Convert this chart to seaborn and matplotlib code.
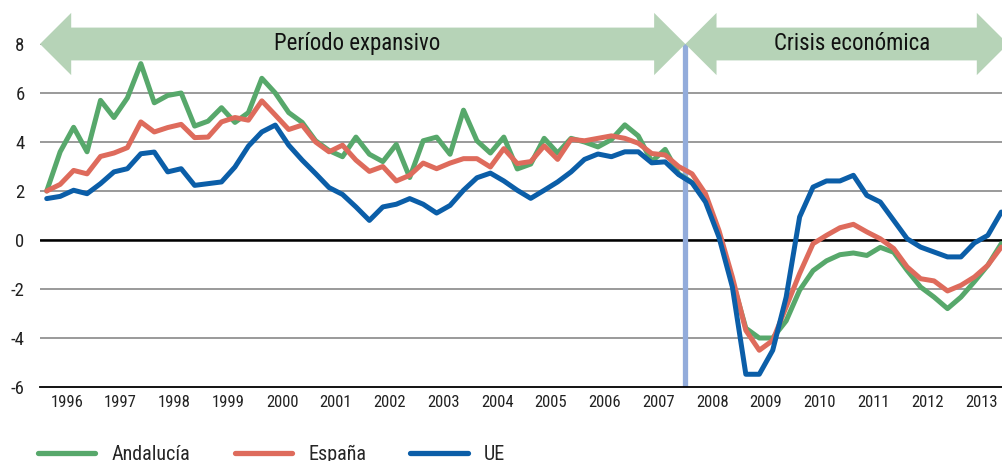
import numpy as np
import pandas as pd
import seaborn as sns
import matplotlib.pyplot as plt
from matplotlib.patches import Polygon
from matplotlib.lines import Line2D

# quarterly growth rates, 1996Q1 - 2013Q4
quarters = pd.period_range('1996Q1', '2013Q4', freq='Q')

andalucia = [2.0, 3.6, 4.6, 3.6, 5.7, 5.0, 5.8, 7.2, 5.6, 5.9, 6.0, 4.65,
             4.85, 5.4, 4.8, 5.2, 6.6, 6.0, 5.2, 4.8, 4.05, 3.65, 3.4, 4.2,
             3.5, 3.2, 3.9, 2.55, 4.05, 4.2, 3.5, 5.3, 4.05, 3.55, 4.2, 2.9,
             3.1, 4.15, 3.55, 4.15, 4.0, 3.8, 4.1, 4.7, 4.25, 3.2, 3.7, 2.7,
             2.35, 1.8, 0.25, -1.65, -3.6, -4.0, -4.0, -3.3, -2.05, -1.25, -0.85, -0.6,
             -0.53, -0.63, -0.3, -0.5, -1.24, -1.92, -2.33, -2.8, -2.33, -1.7, -1.03, -0.15]

espana = [2.0, 2.27, 2.84, 2.7, 3.41, 3.55, 3.77, 4.82, 4.41, 4.59, 4.72, 4.18,
          4.2, 4.82, 5.0, 4.89, 5.68, 5.1, 4.51, 4.69, 4.0, 3.6, 3.87, 3.26,
          2.8, 3.0, 2.41, 2.64, 3.14, 2.91, 3.14, 3.32, 3.32, 2.98, 3.73, 3.12,
          3.2, 3.84, 3.29, 4.11, 4.05, 4.15, 4.25, 4.15, 3.95, 3.53, 3.47, 3.0,
          2.7, 1.89, 0.39, -1.51, -3.69, -4.5, -4.1, -2.73, -1.37, -0.15, 0.19, 0.5,
          0.64, 0.33, 0.05, -0.35, -1.1, -1.58, -1.67, -2.08, -1.85, -1.51, -1.03, -0.29]

ue = [1.69, 1.78, 2.03, 1.89, 2.3, 2.78, 2.91, 3.52, 3.59, 2.78, 2.91, 2.23,
      2.3, 2.37, 2.98, 3.83, 4.41, 4.69, 3.87, 3.26, 2.71, 2.14, 1.86, 1.35,
      0.8, 1.35, 1.46, 1.69, 1.46, 1.1, 1.41, 2.03, 2.54, 2.73, 2.41, 2.03,
      1.7, 2.03, 2.37, 2.78, 3.29, 3.51, 3.4, 3.6, 3.6, 3.15, 3.19, 2.67,
      2.33, 1.55, 0.12, -1.92, -5.48, -5.48, -4.5, -2.33, 0.94, 2.16, 2.41, 2.41,
      2.64, 1.82, 1.55, 0.8, 0.05, -0.29, -0.49, -0.69, -0.69, -0.12, 0.19, 1.14]

series_names = ['Andalucía', 'España', 'UE']
colors = ['#57a86b', '#de6b5c', '#0b5ea8']
years = list(range(1996, 2014))
yticks = [-6, -4, -2, 0, 2, 4, 6, 8]

sns.set_style('white')
plt.rcParams['font.family'] = ['Liberation Sans Narrow', 'Roboto Condensed',
                               'DejaVu Sans Condensed', 'Roboto', 'DejaVu Sans']

xpos = np.array([q.year + (q.quarter - 0.5) / 4 for q in quarters])
df = pd.DataFrame({
    'x': np.tile(xpos, 3),
    'value': andalucia + espana + ue,
    'serie': np.repeat(series_names, len(xpos)),
})

fig = plt.figure(figsize=(10.02, 4.61), dpi=100)
ax = fig.add_axes([40 / 1002, 74 / 461, 968 / 1002, 343 / 461])

for y in yticks[1:]:
    ax.axhline(y, color='#9a9a9a', lw=1.4, zorder=0)
ax.axhline(0, color='black', lw=1.8, zorder=1)
ax.axvline(2008, color='#93acdb', lw=3.8, zorder=1)

sns.lineplot(data=df, x='x', y='value', hue='serie', palette=colors,
             lw=3.6, ax=ax, legend=False, zorder=3)

ax.set_xlim(1996, 2014)
ax.set_ylim(-6, 8)
ax.set_yticks(yticks)
ax.set_yticklabels([str(v) for v in yticks])
ax.tick_params(axis='y', length=0, pad=11, labelsize=13.5, labelcolor='#222222')
ax.set_xticks(years[1:])
ax.set_xticklabels([])
ax.set_xticks([y + 0.5 for y in years], minor=True)
ax.set_xticklabels([str(y) for y in years], minor=True)
ax.tick_params(axis='x', which='major', direction='out', length=7, width=1.2, color='black')
ax.tick_params(axis='x', which='minor', length=0, pad=6, labelsize=12, labelcolor='#222222')
ax.set_xlabel('')
ax.set_ylabel('')
for s in ['top', 'right', 'left']:
    ax.spines[s].set_visible(False)
ax.spines['bottom'].set_color('black')
ax.spines['bottom'].set_linewidth(1.3)

# period arrows
arrow_col = '#b6d3b7'
def double_arrow(x0, x1, head):
    pts = [(x0, 8), (x0 + head, 9.27), (x0 + head, 8.67), (x1 - head, 8.67), (x1 - head, 9.27),
           (x1, 8), (x1 - head, 6.73), (x1 - head, 7.33), (x0 + head, 7.33), (x0 + head, 6.73)]
    ax.add_patch(Polygon(pts, closed=True, facecolor=arrow_col, edgecolor='none',
                         clip_on=False, zorder=4))

double_arrow(1996.0, 2008.0, 0.58)
double_arrow(2008.0, 2014.0, 0.58)
ax.text(2001.9, 8.0, 'Período expansivo', ha='center', va='center', fontsize=16.5,
        color='#111111', zorder=5)
ax.text(2011.1, 8.0, 'Crisis económica', ha='center', va='center', fontsize=16.5,
        color='#111111', zorder=5)

handles = [Line2D([], [], color=c, lw=3.8, solid_capstyle='round') for c in colors]
fig.legend(handles, series_names, loc='center left', bbox_to_anchor=(0.038, 0.014),
           ncol=3, frameon=False, fontsize=14.5, handlelength=2.85, handletextpad=0.8,
           columnspacing=2.2, borderpad=0, borderaxespad=0)

fig.savefig('out.png', dpi=100)
